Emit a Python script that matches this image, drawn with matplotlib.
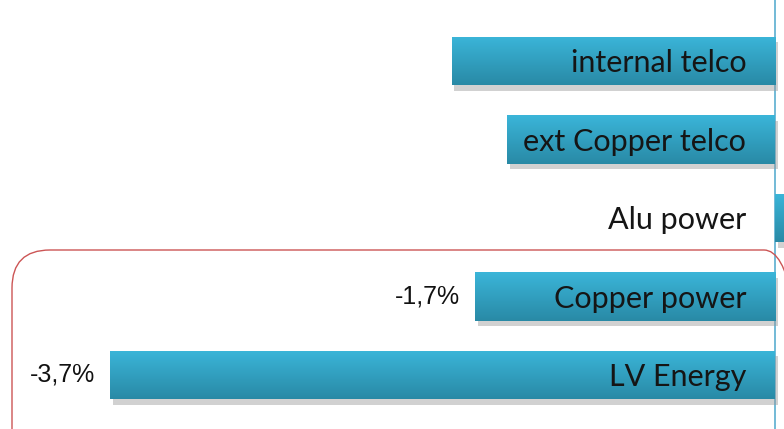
import numpy as np
import matplotlib.pyplot as plt
import matplotlib.patheffects as pe
from matplotlib.patches import FancyBboxPatch
from matplotlib.transforms import IdentityTransform

# Change by segment, in %
segments = ["internal telco", "ext Copper telco", "Alu power", "Copper power", "LV Energy"]
changes = [-1.8, -1.49, 0.2, -1.67, -3.7]
value_labels = ["", "", "", "-1,7%", "-3,7%"]

fig = plt.figure(figsize=(7.84, 4.29), dpi=100)
ax = fig.add_axes([0, 0, 1, 1])

ypos = np.arange(len(segments))
bars = ax.barh(ypos, changes, height=0.62, color="#31a3c4", zorder=2,
               path_effects=[pe.SimplePatchShadow(offset=(2, -4), shadow_rgbFace="#999999", alpha=0.45),
                             pe.Normal()])

# vertical gradient fill on each bar
t = np.linspace(0, 1, 64)[:, None]
top = np.array([0.23, 0.71, 0.85])
bottom = np.array([0.16, 0.54, 0.65])
img = (top + (bottom - top) * t).reshape(64, 1, 3)
for b in bars:
    x0, y0 = b.get_x(), b.get_y()
    w, h = b.get_width(), b.get_height()
    im = ax.imshow(img, extent=[x0, x0 + w, y0 + h, y0], aspect="auto", zorder=3,
                   interpolation="bilinear")
    im.set_clip_path(b)

for y, name in zip(ypos, segments):
    ax.text(-0.16, y + 0.03, name, ha="right", va="center", fontsize=22,
            family="Lato", color="#151515", zorder=4)

for b, lab in zip(bars, value_labels):
    if lab:
        left = min(b.get_x(), b.get_x() + b.get_width())
        ax.annotate(lab, (left, b.get_y() + b.get_height() / 2),
                    xytext=(-11, 0), textcoords="offset points",
                    ha="right", va="center", fontsize=18,
                    family="Liberation Sans", color="#111111")

ax.axvline(0, color="#5aaed0", lw=1.2, zorder=1)

ax.set_xlim(-4.313, 0.05)
ax.set_ylim(4.688, -0.777)
ax.axis("off")

# rounded frame around the power cables
frame = FancyBboxPatch((12, -60), 790, 239, boxstyle="round,pad=0,rounding_size=38",
                       transform=IdentityTransform(), fill=False,
                       edgecolor="#cc5555", lw=1.0, zorder=5)
fig.patches.append(frame)

fig.savefig("out.png", dpi=100)
